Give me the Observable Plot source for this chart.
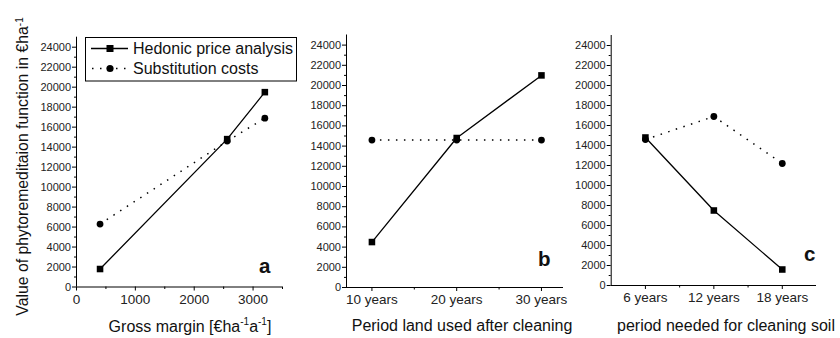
<!DOCTYPE html>
<html>
<head>
<meta charset="utf-8">
<script src="https://cdn.jsdelivr.net/npm/d3@7"></script>
<script src="https://cdn.jsdelivr.net/npm/@observablehq/plot@0.6"></script>
<style>
  html, body { margin: 0; padding: 0; background: #fff; }
  #chart { position: relative; width: 840px; height: 338px; overflow: hidden; background: #fff; }
  #chart > svg { position: absolute; top: 0; }
</style>
</head>
<body>
<div id="chart"></div>
<script>
// ---------------- data ----------------
const seriesNames = ["Hedonic price analysis", "Substitution costs"];

const grossMargin = [400, 2560, 3200];
const hedonicA = [1800, 14800, 19500];
const substitutionA = [6300, 14600, 16900];

const periodUsed = [10, 20, 30];
const hedonicB = [4500, 14800, 21000];
const substitutionB = [14600, 14600, 14600];

const periodCleaning = [6, 12, 18];
const hedonicC = [14800, 7500, 1600];
const substitutionC = [14600, 16900, 12200];

const yMajorTicks = [0, 2000, 4000, 6000, 8000, 10000, 12000, 14000, 16000, 18000, 20000, 22000, 24000];
const yMinorTicks = [1000, 3000, 5000, 7000, 9000, 11000, 13000, 15000, 17000, 19000, 21000, 23000];
const xMajorTicksA = [0, 1000, 2000, 3000];
const xMinorTicksA = [500, 1500, 2500, 3500];
const xMajorTicksB = [10, 20, 30];
const xMinorTicksB = [15, 25];
const xMajorTicksC = [6, 12, 18];
const xMinorTicksC = [9, 15];

const panelLabels = ["a", "b", "c"];
const yTitle = "Value of phytoremeditaion function in €ha";
const xTitleB = "Period land used after cleaning";
const xTitleC = "period needed for cleaning soil";

// ---------------- drawing ----------------
const FONT = "'Liberation Sans', Arial, Helvetica, sans-serif";
const DOTS = "1.5 6.5";

function toRows(xs, ys) { return xs.map((x, i) => ({x, y: ys[i]})); }

function panel(cfg) {
  const hed = toRows(cfg.xs, cfg.hed);
  const sub = toRows(cfg.xs, cfg.sub);
  return Plot.plot({
    width: cfg.width, height: 338,
    marginLeft: cfg.ml, marginRight: cfg.mr, marginTop: cfg.mt, marginBottom: cfg.mb,
    x: {domain: cfg.xDomain, axis: null},
    y: {domain: [0, 25000], axis: null},
    style: {background: "transparent", overflow: "visible", fontFamily: FONT, color: "#000"},
    marks: [
      Plot.ruleX([cfg.xDomain[0]], {y1: 0, y2: 25000, stroke: "#000", strokeWidth: 1}),
      Plot.ruleY([0], {stroke: "#000", strokeWidth: 1}),
      Plot.axisY(yMajorTicks, {label: null, tickSize: 4, tickPadding: 1.5, fontSize: 11, fill: "#222", stroke: "#000", tickFormat: d => String(d)}),
      Plot.axisY(yMinorTicks, {label: null, tickSize: 2, tickFormat: () => "", stroke: "#000"}),
      Plot.axisX(cfg.xMajor, {label: null, tickSize: 4, tickPadding: 3, fontSize: 13.5, fill: "#222", stroke: "#000", tickFormat: cfg.fmt}),
      Plot.axisX(cfg.xMinor, {label: null, tickSize: 2.5, tickFormat: () => "", stroke: "#000"}),
      Plot.line(sub, {x: "x", y: "y", stroke: "#000", strokeWidth: 1.5, strokeDasharray: DOTS, strokeLinecap: "butt"}),
      Plot.line(hed, {x: "x", y: "y", stroke: "#000", strokeWidth: 1.3}),
      Plot.dot(sub, {x: "x", y: "y", r: 3.4, fill: "#000", stroke: "none", symbol: "circle"}),
      Plot.dot(hed, {x: "x", y: "y", r: 3.7, fill: "#000", stroke: "none", symbol: "square"}),
      Plot.text([cfg.label], {frameAnchor: "bottom-right", lineAnchor: "bottom", textAnchor: "end",
        dx: cfg.ldx, dy: cfg.ldy, fontSize: 20.5, fontWeight: "bold", fill: "#111", text: d => d})
    ]
  });
}

const chart = document.getElementById("chart");

const pa = panel({width: 300, ml: 76, mr: 18, mt: 36.7, mb: 51.5, xDomain: [0, 3500],
  xs: grossMargin, hed: hedonicA, sub: substitutionA, xMajor: xMajorTicksA, xMinor: xMinorTicksA,
  fmt: d => String(d), label: panelLabels[0], ldx: -12, ldy: -14.5});
pa.style.left = "0px";

const pb = panel({width: 290, ml: 66, mr: 7, mt: 34.5, mb: 51, xDomain: [7, 32.6],
  xs: periodUsed, hed: hedonicB, sub: substitutionB, xMajor: xMajorTicksB, xMinor: xMinorTicksB,
  fmt: d => d + " years", label: panelLabels[1], ldx: -13, ldy: -22});
pb.style.left = "280px";

const pc = panel({width: 280, ml: 50.7, mr: 24, mt: 35, mb: 53, xDomain: [3, 21],
  xs: periodCleaning, hed: hedonicC, sub: substitutionC, xMajor: xMajorTicksC, xMinor: xMinorTicksC,
  fmt: d => d + " years", label: panelLabels[2], ldx: -1, ldy: -25});
pc.style.left = "560px";

chart.appendChild(pa);
chart.appendChild(pb);
chart.appendChild(pc);

// overlay: titles & legend
const svg = d3.select(chart).append("svg")
  .attr("width", 840).attr("height", 338)
  .style("left", "0px").style("font-family", FONT);

// y title
const yt = svg.append("text")
  .attr("transform", "translate(27.5,166.5) rotate(-90)")
  .attr("text-anchor", "middle").attr("font-size", 15.8).attr("fill", "#111");
yt.append("tspan").text(yTitle);
yt.append("tspan").attr("dy", "-0.45em").attr("font-size", 10).text("-1");

// x titles
const xa = svg.append("text").attr("x", 190).attr("y", 331.5)
  .attr("text-anchor", "middle").attr("font-size", 16).attr("fill", "#111");
xa.append("tspan").text("Gross margin [€ha");
xa.append("tspan").attr("dy", -7).attr("font-size", 10).text("-1");
xa.append("tspan").attr("dy", 7).text("a");
xa.append("tspan").attr("dy", -7).attr("font-size", 10).text("-1");
xa.append("tspan").attr("dy", 7).text("]");

svg.append("text").attr("x", 462).attr("y", 331).attr("text-anchor", "middle")
  .attr("font-size", 16).attr("fill", "#111").text(xTitleB);
svg.append("text").attr("x", 726).attr("y", 331).attr("text-anchor", "middle")
  .attr("font-size", 16).attr("fill", "#111").text(xTitleC);

// legend
const lg = svg.append("g");
lg.append("rect").attr("x", 85.5).attr("y", 37.5).attr("width", 211).attr("height", 43.5)
  .attr("fill", "#fff").attr("stroke", "#000").attr("stroke-width", 1);
lg.append("line").attr("x1", 91).attr("x2", 128).attr("y1", 48.5).attr("y2", 48.5)
  .attr("stroke", "#000").attr("stroke-width", 1.3);
lg.append("rect").attr("x", 106.5).attr("y", 45).attr("width", 7).attr("height", 7).attr("fill", "#000");
lg.append("line").attr("x1", 92).attr("x2", 128).attr("y1", 68.5).attr("y2", 68.5)
  .attr("stroke", "#000").attr("stroke-width", 1.5).attr("stroke-dasharray", DOTS);
lg.append("circle").attr("cx", 110).attr("cy", 68.5).attr("r", 3.6).attr("fill", "#000");
lg.append("text").attr("x", 133).attr("y", 48.5).attr("dy", "0.35em")
  .attr("font-size", 16).attr("fill", "#111").text(seriesNames[0]);
lg.append("text").attr("x", 133).attr("y", 68.5).attr("dy", "0.35em")
  .attr("font-size", 16).attr("fill", "#111").text(seriesNames[1]);
</script>
</body>
</html>
